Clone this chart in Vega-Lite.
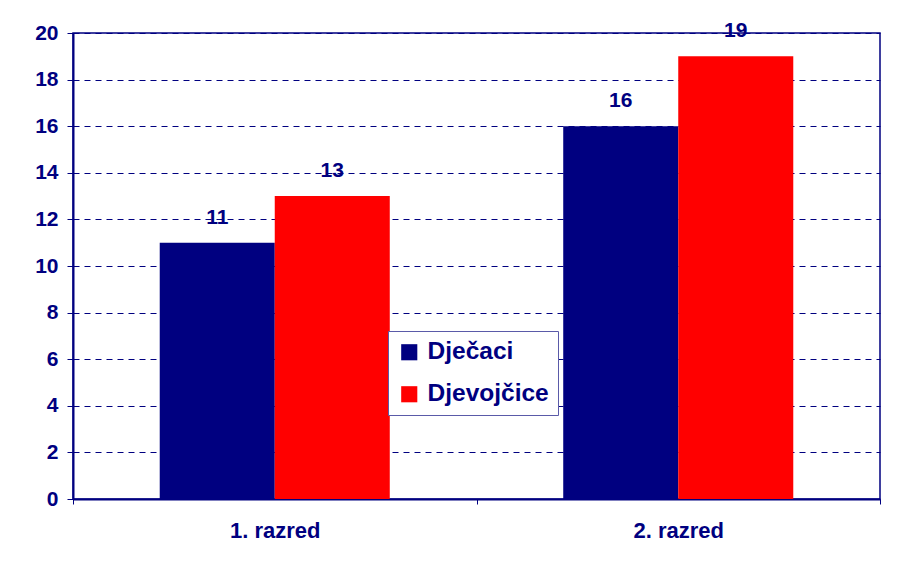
{
  "$schema": "https://vega.github.io/schema/vega-lite/v6.json",
  "width": 807,
  "height": 466,
  "autosize": {"type": "none"},
  "padding": {"left": 73, "top": 33, "right": 23, "bottom": 69},
  "background": "white",
  "config": {
    "view": {"stroke": "#000080", "strokeWidth": 1.5},
    "font": "Liberation Sans"
  },
  "data": {
    "values": [
      {"razred": "1. razred", "spol": "Dječaci", "broj": 11},
      {"razred": "1. razred", "spol": "Djevojčice", "broj": 13},
      {"razred": "2. razred", "spol": "Dječaci", "broj": 16},
      {"razred": "2. razred", "spol": "Djevojčice", "broj": 19}
    ]
  },
  "encoding": {
    "x": {
      "field": "razred",
      "type": "nominal",
      "scale": {"paddingInner": 0, "paddingOuter": 0},
      "axis": {
        "title": null,
        "labelAngle": 0,
        "labelFont": "Liberation Sans",
        "labelFontWeight": "bold",
        "labelFontSize": 22,
        "labelColor": "#000080",
        "labelPadding": 16,
        "domainColor": "#000080",
        "domainWidth": 2,
        "tickColor": "#000080",
        "tickSize": 5,
        "tickBand": "extent",
        "grid": false
      }
    },
    "xOffset": {"field": "spol", "type": "nominal", "sort": ["Dječaci", "Djevojčice"], "scale": {"paddingInner": 0, "paddingOuter": 0.754}},
    "y": {
      "field": "broj",
      "type": "quantitative",
      "scale": {"domain": [0, 20], "nice": false},
      "axis": {
        "title": null,
        "values": [0, 2, 4, 6, 8, 10, 12, 14, 16, 18, 20],
        "labelFont": "Liberation Sans",
        "labelFontWeight": "bold",
        "labelFontSize": 21,
        "labelColor": "#000080",
        "labelPadding": 9,
        "domainColor": "#000080",
        "domainWidth": 2,
        "tickColor": "#000080",
        "tickSize": 6,
        "grid": true,
        "gridColor": "#000080",
        "gridDash": [6, 5],
        "gridWidth": 1
      }
    }
  },
  "layer": [
    {
      "mark": {"type": "bar"},
      "encoding": {
        "color": {
          "field": "spol",
          "type": "nominal",
          "sort": ["Dječaci", "Djevojčice"],
          "scale": {"domain": ["Dječaci", "Djevojčice"], "range": ["#000080", "#FF0000"]},
          "legend": {
            "title": null,
            "orient": "none",
            "legendX": 315,
            "legendY": 298,
            "direction": "vertical",
            "symbolType": "square",
            "symbolSize": 260,
            "symbolStrokeWidth": 0,
            "labelFont": "Liberation Sans",
            "labelFontWeight": "bold",
            "labelFontSize": 24.5,
            "labelColor": "#000080",
            "labelOffset": 6,
            "rowPadding": 17,
            "padding": 9,
            "strokeColor": "#5a5aa8",
            "fillColor": "white"
          }
        }
      }
    },
    {
      "mark": {
        "type": "text",
        "baseline": "alphabetic",
        "dy": -19,
        "font": "Liberation Sans",
        "fontWeight": "bold",
        "fontSize": 21,
        "color": "#000080"
      },
      "encoding": {"text": {"field": "broj", "type": "quantitative"}}
    }
  ]
}
